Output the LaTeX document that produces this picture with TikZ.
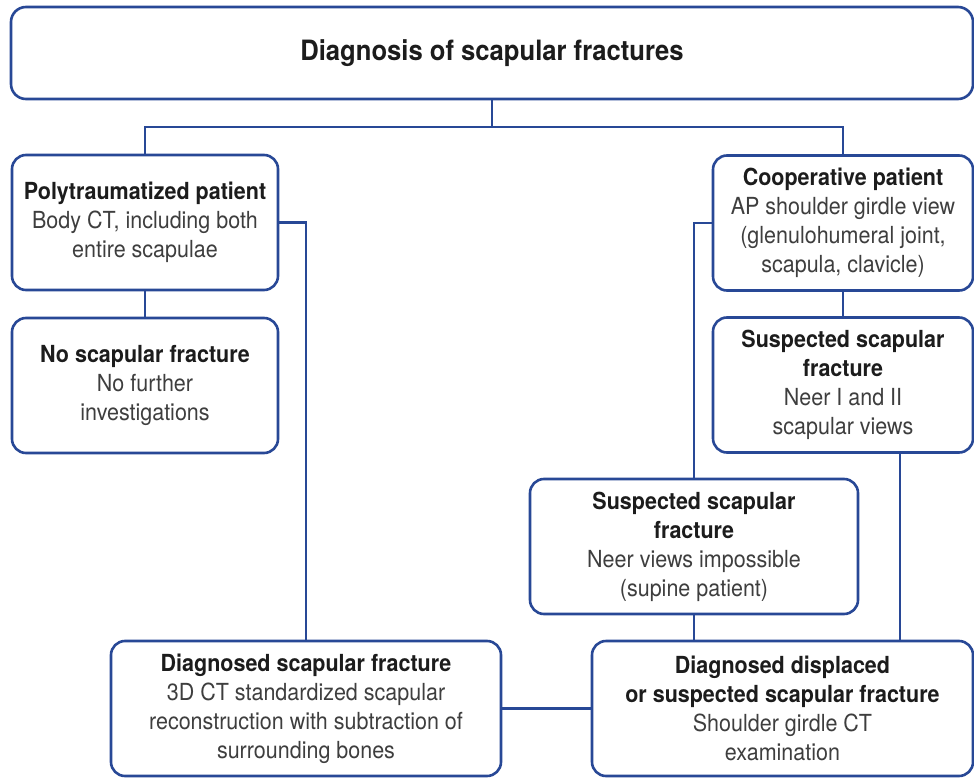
\documentclass[tikz,border=0pt]{standalone}
\usepackage{fontspec}
\setmainfont{TeX Gyre Heros}[FakeStretch=0.915]
\usepackage{tikz}
\usepackage{xcolor}
\usetikzlibrary{
  positioning,
  arrows.meta
}

\definecolor{boxblue}{RGB}{40,72,150}
\definecolor{headink}{RGB}{28,28,28}
\definecolor{bodyink}{RGB}{62,62,62}
\newcommand{\headline}[1]{\textcolor{headink}{\bfseries #1}}

\begin{document}
\begin{tikzpicture}[
  x=1pt, y=1pt,
  font=\fontsize{23.5}{29}\selectfont,
  title/.style={
    draw=boxblue,
    line width=2.6pt,
    fill=white,
    minimum width=962pt,
    minimum height=92pt,
    align=center,
    rounded corners=15pt,
    font=\fontsize{28}{34}\selectfont\bfseries,
    text=headink
  },
  stage/.style={
    draw=boxblue,
    line width=2.6pt,
    fill=white,
    minimum height=135pt,
    align=center,
    rounded corners=14pt,
    inner sep=2pt,
    text=bodyink
  },
  link/.style={draw=boxblue, line width=2.4pt}
]
\useasboundingbox (0,0) rectangle (974,-778);

% Main question
\node[title] (diag0) at (492,-53) {Diagnosis of scapular fractures};

% Left branch
\node[stage, minimum width=266pt] (poly) at (145,-222.5)
  {\headline{Polytraumatized patient}\\Body CT, including both\\entire scapulae};
\node[stage, minimum width=266pt, below=25.4pt of poly] (nofrac)
  {\headline{No scapular fracture}\\No further\\investigations};

% Right branch
\node[stage, minimum width=260pt] (coop) at (843,-223)
  {\headline{Cooperative patient}\\AP shoulder girdle view\\(glenulohumeral joint,\\scapula, clavicle)};
\node[stage, minimum width=260pt, below=24.4pt of coop] (neer)
  {\headline{Suspected scapular}\\\headline{fracture}\\Neer I and II\\scapular views};
\node[stage, minimum width=328pt] (supine) at (694,-546.5)
  {\headline{Suspected scapular}\\\headline{fracture}\\Neer views impossible\\(supine patient)};

% Results
\node[stage, minimum width=390pt] (diag) at (306,-708.5)
  {\headline{Diagnosed scapular fracture}\\3D CT standardized scapular\\reconstruction with subtraction of\\surrounding bones};
\node[stage, minimum width=381pt] (disp) at (782.5,-708.5)
  {\headline{Diagnosed displaced}\\\headline{or suspected scapular fracture}\\Shoulder girdle CT\\examination};

% Connectors
\coordinate (fork) at ([yshift=-26.7pt]diag0.south);
\draw[link] (diag0.south) -- (fork);
\draw[link] (poly.north) |- (fork) -| (coop.north);

\draw[link] (poly.south) -- (nofrac.north);
\draw[link] (poly.east) -| (diag.north);

\draw[link] (coop.south) -- (neer.north);
\draw[link] (coop.west) -| (supine.north);
\draw[link] ([xshift=57pt]neer.south) -- ([xshift=57pt]neer.south |- disp.north);
\draw[link] (supine.south) -- (supine.south |- disp.north);

\draw[link] (diag.east) -- (disp.west);

\end{tikzpicture}
\end{document}
